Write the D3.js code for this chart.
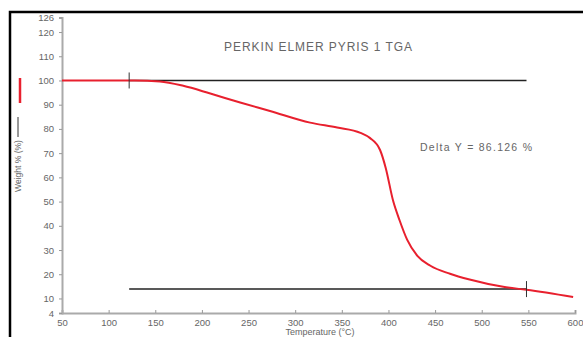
<html>
<script src="https://d3js.org/d3.v7.min.js"></script>
<style>
body { margin: 0; background: #fff; }
text { font-family: Arial, "Liberation Sans", sans-serif; fill: #666; }
</style>
<body>
<svg id="chart" width="583" height="337"></svg>
<script>
// TGA curve: temperature (°C) and weight (%)
const temps   = [50, 90, 115, 128, 155, 180, 209, 241, 273, 316, 345, 370, 380, 391, 397, 405, 412, 420, 431, 445, 466, 487, 523, 548, 598];
const weights = [100, 100, 100, 100, 99.6, 97.8, 94.6, 90.9, 87.4, 82.6, 80.6, 78.4, 76.3, 71.3, 64.0, 50.3, 42.2, 34.3, 27.6, 23.5, 20.2, 17.8, 14.8, 13.6, 10.6];
const xTicks = [50, 100, 150, 200, 250, 300, 350, 400, 450, 500, 550, 600];
const yTicks = [4, 10, 20, 30, 40, 50, 60, 70, 80, 90, 100, 110, 120, 126];
// delta-Y marker: from 122 to 548 °C, top at 100 %, bottom at 100 - 86.126
const deltaStart = 122, deltaEnd = 548, deltaTop = 100, deltaY = 86.126;

const svg = d3.select("#chart");

// outer frame
svg.append("rect").attr("x", 10).attr("y", 12).attr("width", 600).attr("height", 400)
  .attr("fill", "#fff").attr("stroke", "#000").attr("stroke-width", 2.5);

const x = d3.scaleLinear().domain([50, 600]).range([62, 575]);
const y = d3.scaleLinear().domain([4, 126]).range([313, 17.5]);

// axes
const gx = svg.append("g").attr("transform", "translate(0," + y(4) + ")")
  .call(d3.axisBottom(x).tickValues(xTicks).tickSize(-3).tickPadding(6));
const gy = svg.append("g").attr("transform", "translate(" + x(50) + ",0)")
  .call(d3.axisLeft(y).tickValues(yTicks).tickSize(3).tickPadding(5));
[gx, gy].forEach(g => {
  g.select(".domain").attr("stroke", "#aaa").attr("stroke-width", 2);
  g.selectAll(".tick line").attr("stroke", "#999");
  g.selectAll(".tick text").attr("fill", "#777").attr("font-size", 9.5)
    .attr("font-family", "Arial, 'Liberation Sans', sans-serif");
});

// delta lines
svg.append("line").attr("x1", x(deltaStart)).attr("x2", x(deltaEnd))
  .attr("y1", y(deltaTop)).attr("y2", y(deltaTop)).attr("stroke", "#222").attr("stroke-width", 1.5);
svg.append("line").attr("x1", x(deltaStart)).attr("x2", x(deltaEnd))
  .attr("y1", y(deltaTop - deltaY)).attr("y2", y(deltaTop - deltaY)).attr("stroke", "#222").attr("stroke-width", 1.5);

// curve
const line = d3.line().x((d, i) => x(temps[i])).y(d => y(d)).curve(d3.curveMonotoneX);
svg.append("path").datum(weights).attr("d", line)
  .attr("fill", "none").attr("stroke", "#e8202e").attr("stroke-width", 2);

// end ticks of the delta marker
svg.append("line").attr("x1", x(deltaStart)).attr("x2", x(deltaStart))
  .attr("y1", y(deltaTop) - 8).attr("y2", y(deltaTop) + 8).attr("stroke", "#333").attr("stroke-width", 1);
svg.append("line").attr("x1", x(deltaEnd)).attr("x2", x(deltaEnd))
  .attr("y1", y(deltaTop - deltaY) - 8).attr("y2", y(deltaTop - deltaY) + 8).attr("stroke", "#333").attr("stroke-width", 1);

// texts
svg.append("text").attr("x", 318).attr("y", 51).attr("text-anchor", "middle")
  .attr("font-size", 12).attr("textLength", 188).text("PERKIN ELMER PYRIS 1 TGA");
svg.append("text").attr("x", 420).attr("y", 151).attr("font-size", 10.5)
  .attr("textLength", 112).text("Delta Y = " + deltaY + " %");
svg.append("text").attr("x", 320).attr("y", 335).attr("text-anchor", "middle")
  .attr("font-size", 9).text("Temperature (°C)");

// y label with legend strokes
svg.append("text").attr("transform", "translate(21,166) rotate(-90)")
  .attr("text-anchor", "middle").attr("font-size", 8.5).text("Weight % (%)");
svg.append("line").attr("x1", 18).attr("x2", 18).attr("y1", 117).attr("y2", 137)
  .attr("stroke", "#333").attr("stroke-width", 1);
svg.append("line").attr("x1", 20).attr("x2", 20).attr("y1", 78).attr("y2", 103)
  .attr("stroke", "#e8202e").attr("stroke-width", 2.5);
</script>
</body>
</html>
